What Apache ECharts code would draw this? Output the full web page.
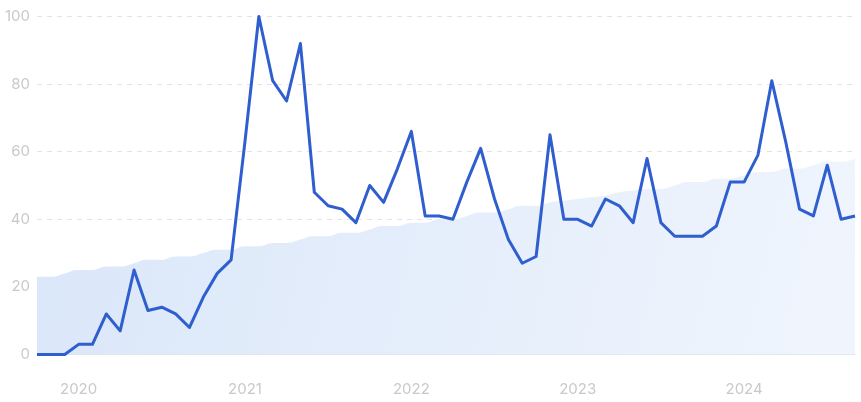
<!DOCTYPE html>
<html>
<head>
<meta charset="utf-8">
<script src="https://cdn.jsdelivr.net/npm/echarts@6/dist/echarts.min.js"></script>
<style>
html,body{margin:0;padding:0;background:#fff;}
#chart{width:861px;height:402px;}
</style>
</head>
<body>
<div id="chart"></div>
<script>
// Monthly categories Oct 2019 .. Sep 2024
const months = [];
(function(){
  let y = 2019, m = 10;
  for (let i = 0; i < 60; i++) {
    months.push(y + '-' + String(m).padStart(2, '0'));
    m++; if (m > 12) { m = 1; y++; }
  }
})();

const interestValues = [
  0, 0, 0, 3, 3, 12, 7, 25, 13, 14, 12, 8,
  17, 24, 28, 63, 100, 81, 75, 92, 48, 44, 43, 39,
  50, 45, 55, 66, 41, 41, 40, 51, 61, 46, 34, 27,
  29, 65, 40, 40, 38, 46, 44, 39, 58, 39, 35, 35,
  35, 38, 51, 51, 59, 81, 63, 43, 41, 56, 40, 41
];

const trendValues = [
  23, 23, 24, 25, 25, 26, 26, 27, 28, 28, 29, 29,
  30, 31, 31, 32, 32, 33, 33, 34, 35, 35, 36, 36,
  37, 38, 38, 39, 39, 40, 40, 41, 42, 42, 43, 44,
  44, 45, 45.5, 46, 46.5, 47, 48, 48.5, 49, 49, 50, 51,
  51, 52, 52, 53, 54, 54, 55, 55, 56, 57, 57, 58
];

const yTicks = [0, 20, 40, 60, 80, 100];

const chart = echarts.init(document.getElementById('chart'), null, {renderer: 'canvas'});
chart.setOption({
  animation: false,
  grid: {left: 37, right: 6, top: 16.5, bottom: 47.5, containLabel: false},
  xAxis: {
    type: 'category',
    data: months,
    boundaryGap: false,
    axisLine: {show: true, lineStyle: {color: '#dfe5ef', width: 1}},
    axisTick: {show: false},
    splitLine: {show: false},
    axisLabel: {
      color: '#c9c9c9',
      fontSize: 15,
      fontFamily: 'Inter',
      margin: 27,
      interval: function (idx, val) { return val.endsWith('-01'); },
      formatter: function (val) { return val.slice(0, 4); }
    }
  },
  yAxis: {
    type: 'value',
    min: 0,
    max: 100,
    interval: 20,
    axisLine: {show: false},
    axisTick: {show: false},
    splitLine: {show: true, lineStyle: {color: '#e3e3e3', type: [5, 5], width: 1}},
    axisLabel: {
      color: '#c9c9c9',
      fontSize: 15,
      fontFamily: 'Inter',
      margin: 7,
      formatter: function (v) { return yTicks.indexOf(v) >= 0 ? String(v) : ''; }
    }
  },
  series: [
    {
      type: 'line',
      data: trendValues,
      smooth: true,
      symbol: 'none',
      lineStyle: {width: 0, opacity: 0},
      areaStyle: {
        opacity: 1,
        color: new echarts.graphic.LinearGradient(0, 0, 1, 1, [
          {offset: 0, color: '#dae7f9'},
          {offset: 1, color: '#f0f5fd'}
        ])
      },
      z: 1
    },
    {
      type: 'line',
      data: interestValues,
      symbol: 'none',
      lineStyle: {color: '#2f5ecf', width: 3, join: 'round'},
      z: 3
    }
  ]
});
</script>
</body>
</html>
